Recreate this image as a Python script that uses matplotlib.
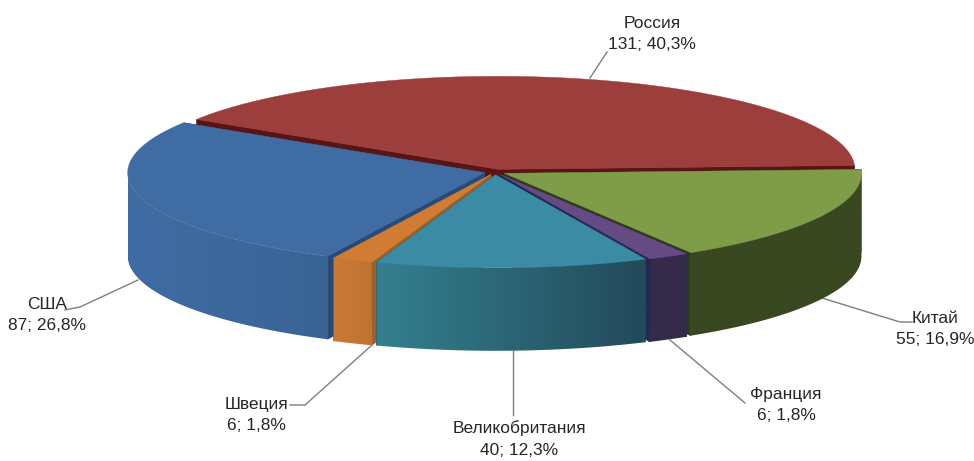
import numpy as np
import matplotlib.pyplot as plt
from matplotlib.colors import to_rgb
from matplotlib.patches import Polygon

plt.rcParams['font.family'] = ['Liberation Sans', 'DejaVu Sans']

names = ['Россия', 'Китай', 'Франция', 'Великобритания', 'Швеция', 'США']
values = [131, 55, 6, 40, 6, 87]
top_colors = ['#9C3E3C', '#7F9C48', '#664A84', '#3B8BA5', '#D07C33', '#3F6CA3']
wall_left = ['#5A1A1A', '#384820', '#352A4A', '#33808F', '#C87A35', '#3F6CA3']
wall_right = ['#5A1A1A', '#384820', '#352A4A', '#234A5A', '#C07230', '#3A6496']
cut_colors = ['#5A1414', '#2E3A18', '#1E2A50', '#1F4A5C', '#A05F28', '#274A78']

# label centre (x, y) and leader line points in pixels
label_pos = [(652, 34), (935, 329), (786, 405), (519, 439), (256, 415), (47, 315)]
leaders = [
    [(590, 78), (607, 52)],
    [(822, 298), (900, 322), (912, 322)],
    [(670, 340), (745, 403)],
    [(513, 350), (513, 415)],
    [(372, 345), (305, 405), (290, 405)],
    [(138, 280), (80, 307), (65, 310)],
]

CX, CY = 495, 172
A, B = 357, 93
DEPTH = 83
EXPLODE = 0.03
START = 147.5

figure, axes = plt.subplots(figsize=(9.74, 4.61), dpi=100)
figure.subplots_adjust(0, 0, 1, 1)
axes.axis('off')


def rim(cx, cy, t):
    return cx + A * np.cos(np.radians(t)), cy - B * np.sin(np.radians(t))


def gradient(i):
    c1, c2 = np.array(to_rgb(wall_left[i])), np.array(to_rgb(wall_right[i]))
    k = np.linspace(0, 1, 64).reshape(1, 64, 1)
    return c1 + (c2 - c1) * k


total = sum(values)
spans = [v / total * 360 for v in values]
starts = START - np.cumsum([0] + spans[:-1])
mids = starts - np.array(spans) / 2
slices = []
for i in range(len(values)):
    cx = CX + EXPLODE * A * np.cos(np.radians(mids[i]))
    cy = CY - EXPLODE * B * np.sin(np.radians(mids[i]))
    slices.append((i, cx, cy, starts[i], starts[i] - spans[i]))

# back to front so nearer slices cover the others
for i, cx, cy, t0, t1 in [slices[k] for k in (0, 5, 1, 2, 4, 3)]:
    # radial cut faces
    for t in (t0, t1):
        x, y = rim(cx, cy, t)
        axes.fill([cx, x, x, cx], [cy, y, y + DEPTH, cy + DEPTH],
                  color=cut_colors[i], lw=0.5, zorder=1)
    ts = np.linspace(t0, t1, 200)
    # outer wall, only the part turned to the viewer
    front = ts[np.sin(np.radians(ts)) <= 0.02]
    if len(front) > 1:
        wx, wy = rim(cx, cy, front)
        poly = np.r_[np.c_[wx, wy], np.c_[wx[::-1], wy[::-1] + DEPTH]]
        image = axes.imshow(gradient(i), aspect='auto', interpolation='bilinear', zorder=1,
                            extent=(wx.min(), wx.max(), poly[:, 1].max(), poly[:, 1].min()))
        clip = Polygon(poly, transform=axes.transData, fc='none', ec='none')
        axes.add_patch(clip)
        image.set_clip_path(clip)
    # top of the slice
    px, py = rim(cx, cy, ts)
    axes.fill(np.r_[cx, px], np.r_[cy, py], color=top_colors[i], lw=0.3, zorder=1)

for i in range(len(values)):
    xs, ys = zip(*leaders[i])
    axes.plot(xs, ys, color='#7f7f7f', lw=1, zorder=0)
    pct = f'{values[i] / total * 100:.1f}'.replace('.', ',')
    axes.text(label_pos[i][0], label_pos[i][1], f'{names[i]}\n{values[i]}; {pct}%',
              ha='center', va='center', fontsize=12.5, color='#262626', linespacing=1.55)

axes.set_xlim(0, 974)
axes.set_ylim(461, 0)
figure.savefig('out.png', dpi=100)
